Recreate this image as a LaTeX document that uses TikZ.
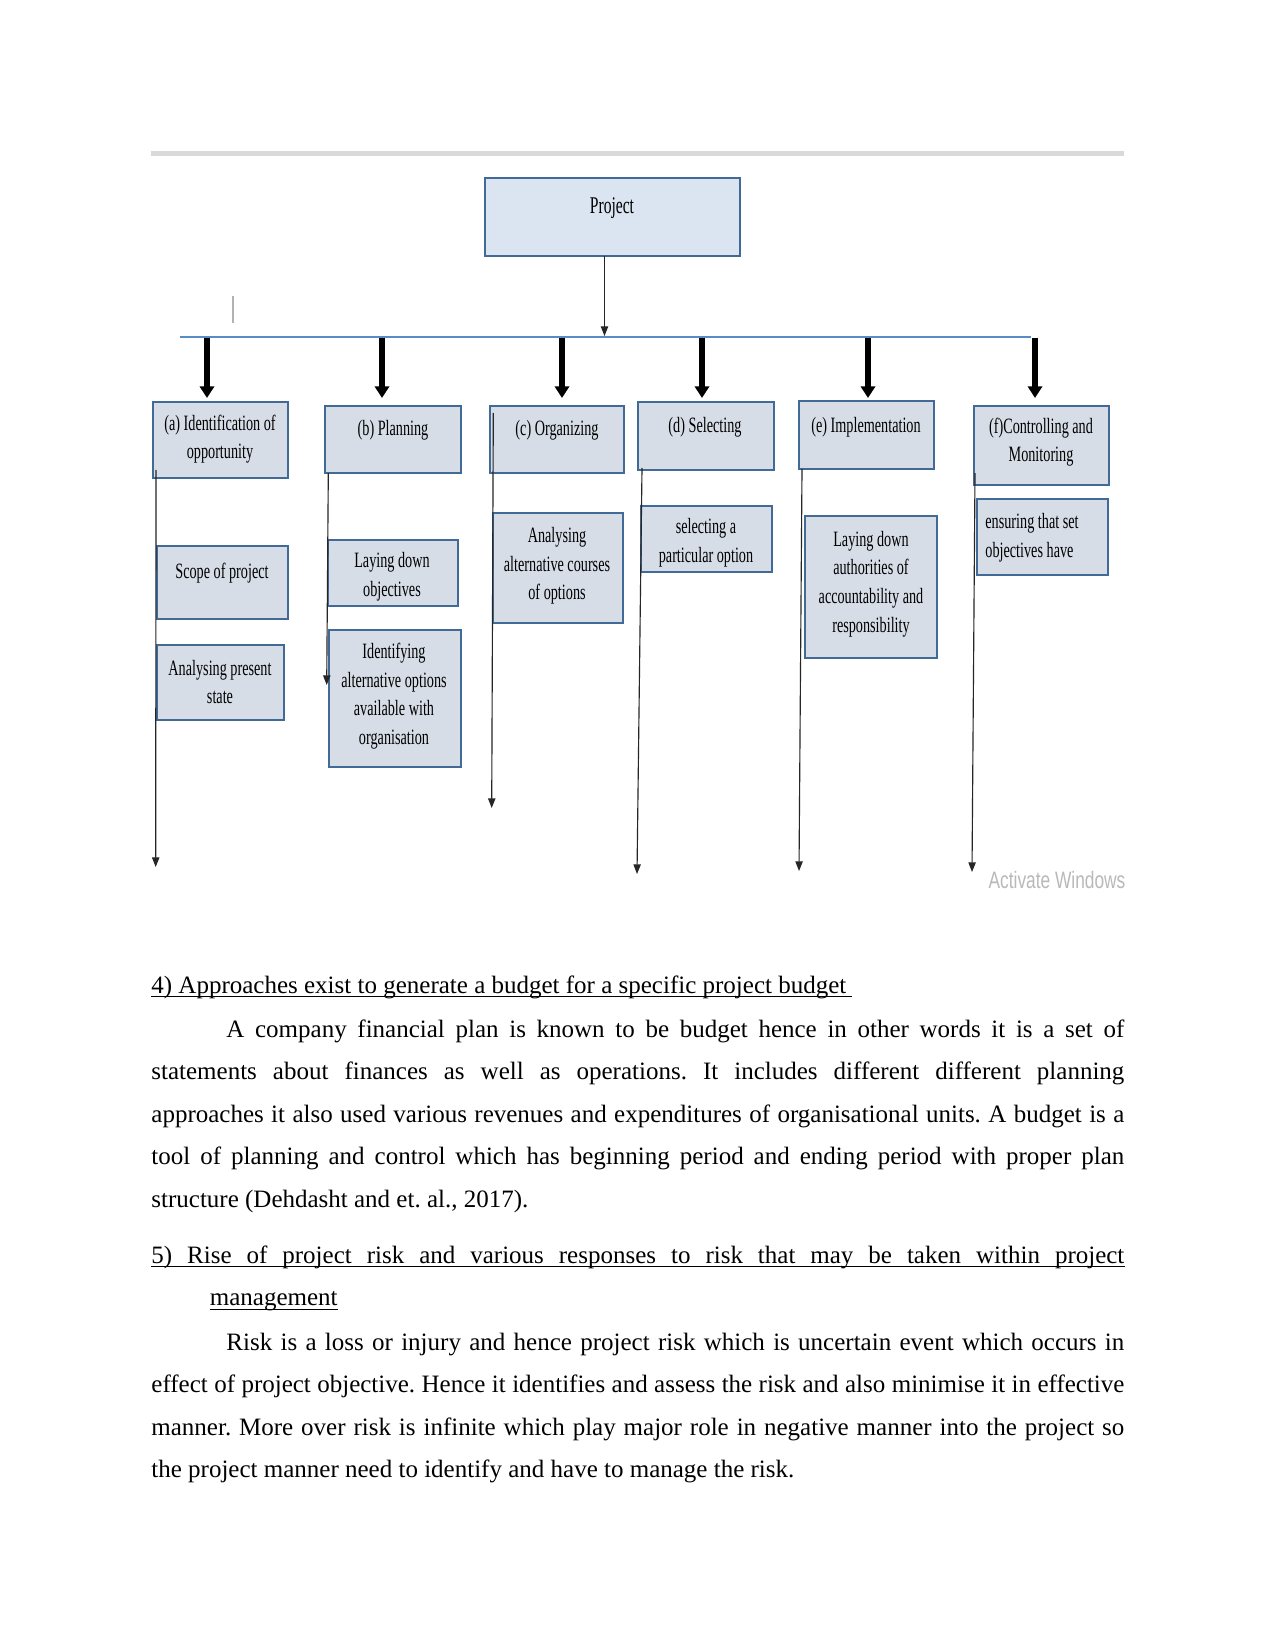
\documentclass[tikz,border=0pt]{standalone}
\usepackage{fontspec}
\setmainfont{Liberation Serif}
\newfontfamily\dgf[FakeStretch=0.65]{Liberation Serif}
\newfontfamily\awf[FakeStretch=0.73]{Liberation Sans}
\usetikzlibrary{arrows.meta,fit}
\definecolor{boxfill}{RGB}{214,221,231}
\definecolor{projfill}{RGB}{219,228,241}
\definecolor{boxline}{RGB}{66,106,150}
\definecolor{hlinecol}{RGB}{88,140,196}
\tikzset{
  box/.style={draw=boxline, line width=1pt, fill=boxfill, inner sep=0pt},
  lbl/.style={font=\dgf\fontsize{10.5pt}{13.7pt}\selectfont, align=center, inner sep=0pt, text=black},
  bigarrow/.style={line width=2.9pt, -{Triangle[length=5.6pt,width=6.8pt]}},
  smallarrow/.style={line width=0.55pt, draw=black!85, -{Triangle[length=4.6pt,width=3.5pt]}},
  body/.style={font=\fontsize{12pt}{20.45pt}\selectfont\frenchspacing, text width=467pt, align=justify, inner sep=0pt, anchor=base west},
  bodyline/.style={font=\fontsize{12pt}{20.45pt}\selectfont\frenchspacing, inner sep=0pt, anchor=base west},
  uline/.style={line width=0.6pt, black},
}
\begin{document}
\begin{tikzpicture}[x=0.48pt,y=-0.48pt]
\useasboundingbox (0,0) rectangle (1275,1650);
\fill[white] (0,0) rectangle (1275,1650);

% top rule
\coordinate (r1) at (151,153.5);
\coordinate (r2) at (1124,153.5);
\draw[gray!30, line width=2.8pt] (r1) -- (r2);

% boxes
\node[box, fill=projfill, fit={(485,178) (740,256)}] (P) {};
\node[box, fit={(153,402) (288,478)}] (a) {};
\node[box, fit={(325,406) (461,473)}] (b) {};
\node[box, fit={(490,406) (624,473)}] (c) {};
\node[box, fit={(638,402) (774,470)}] (d) {};
\node[box, fit={(799,401) (934,469)}] (e) {};
\node[box, fit={(974,406) (1109,485)}] (f) {};
\node[box, fit={(157,546) (288,619)}] (a1) {};
\node[box, fit={(157,645) (284,720)}] (a2) {};
\node[box, fit={(328,540) (458,606)}] (b1) {};
\node[box, fit={(329,630) (461,767)}] (b2) {};
\node[box, fit={(493,513) (623,623)}] (c1) {};
\node[box, fit={(641,506) (772,572)}] (d1) {};
\node[box, fit={(805,516) (937,658)}] (e1) {};
\node[box, fit={(977,499) (1108,575)}] (f1) {};

% labels
\node[lbl, font=\dgf\fontsize{11.5pt}{14pt}\selectfont] (Pt) at (612,208) {Project};
\node[lbl] (at) at (220,439) {(a) Identification of\\opportunity};
\node[lbl] (bt) at (393,430) {(b) Planning};
\node[lbl] (ct) at (557,430) {(c) Organizing};
\node[lbl] (dt) at (705,427) {(d) Selecting};
\node[lbl] (et) at (866,427) {(e) Implementation};
\node[lbl] (ft) at (1041,442) {(f)Controlling and\\Monitoring};
\node[lbl] (a1t) at (222,573) {Scope of project};
\node[lbl] (a2t) at (220,682) {Analysing present\\state};
\node[lbl] (b1t) at (392,577) {Laying down\\objectives};
\node[lbl] (b2t) at (394,696) {Identifying\\alternative options\\available with\\organisation};
\node[lbl] (c1t) at (557,566) {Analysing\\alternative courses\\of options};
\node[lbl] (d1t) at (706,543) {selecting a\\particular option};
\node[lbl] (e1t) at (871,584) {Laying down\\authorities of\\accountability and\\responsibility};
\node[lbl, align=left, anchor=west] (f1t) at (985,538) {ensuring that set\\objectives have};

% project to bar
\coordinate (pA) at (604.5,256);
\coordinate (pB) at (604.5,336);
\draw[smallarrow] (pA) -- (pB);

% horizontal bar
\coordinate (hL) at (180,337);
\coordinate (hR) at (1031,337);
\draw[hlinecol, line width=1pt] (hL) -- (hR);

% small gray mark
\coordinate (m1) at (233,296);
\coordinate (m2) at (233,323);
\draw[gray!60, line width=0.5pt] (m1) -- (m2);

% thick arrows
\foreach \n/\x in {1/207,2/382,3/562,4/702,5/868,6/1035}{
  \coordinate (ts\n) at (\x,338);
  \coordinate (te\n) at (\x,398);
  \draw[bigarrow] (ts\n) -- (te\n);
}

% thin vertical arrows
\coordinate (va1) at (156,470);   \coordinate (vb1) at (155.7,867);
\coordinate (va2) at (328.3,473); \coordinate (vb2) at (326.7,685);
\coordinate (va3) at (493.3,413); \coordinate (vb3) at (491.7,808);
\coordinate (va4) at (642,468);   \coordinate (vb4) at (637,874);
\coordinate (va5) at (802,469);   \coordinate (vb5) at (799,871);
\coordinate (va6) at (975,473);   \coordinate (vb6) at (972,872);
\foreach \n in {1,...,6}{\draw[smallarrow] (va\n) -- (vb\n);}

% watermark
\node[font=\awf\fontsize{11.4pt}{13pt}\selectfont, text=gray!55, inner sep=0pt] (aw) at (1057,880) {Activate Windows};

% body text
\node[bodyline] (h4) at (151,993) {4) Approaches exist to generate a budget for a specific project budget\kern2.6pt\relax};
\draw[uline] ([yshift=-1.7pt]h4.base west) -- ([yshift=-1.7pt]h4.base east);
\node[body] (p1) at (151,1037) {\hspace*{36pt}A company financial plan is known to be budget hence in other words it is a set of\linebreak
statements about finances as well as operations. It includes different different planning\linebreak
approaches it also used various revenues and expenditures of organisational units. A budget is a\linebreak
tool of planning and control which has beginning period and ending period with proper plan\linebreak
structure (Dehdasht and et. al., 2017).};
\node[body] (h5) at (151,1263) {\parfillskip=0pt 5) Rise of project risk and various responses to risk that may be taken within project\par};
\draw[uline] ([yshift=-1.7pt]h5.base west) -- ([yshift=-1.7pt]h5.base east);
\node[bodyline] (h5b) at (209.5,1305.6) {management};
\draw[uline] ([yshift=-1.7pt]h5b.base west) -- ([yshift=-1.7pt]h5b.base east);
\node[body] (p2) at (151,1350) {\hspace*{36pt}Risk is a loss or injury and hence project risk which is uncertain event which occurs in\linebreak
effect of project objective. Hence it identifies and assess the risk and also minimise it in effective\linebreak
manner. More over risk is infinite which play major role in negative manner into the project so\linebreak
the project manner need to identify and have to manage the risk.};
\end{tikzpicture}
\end{document}
